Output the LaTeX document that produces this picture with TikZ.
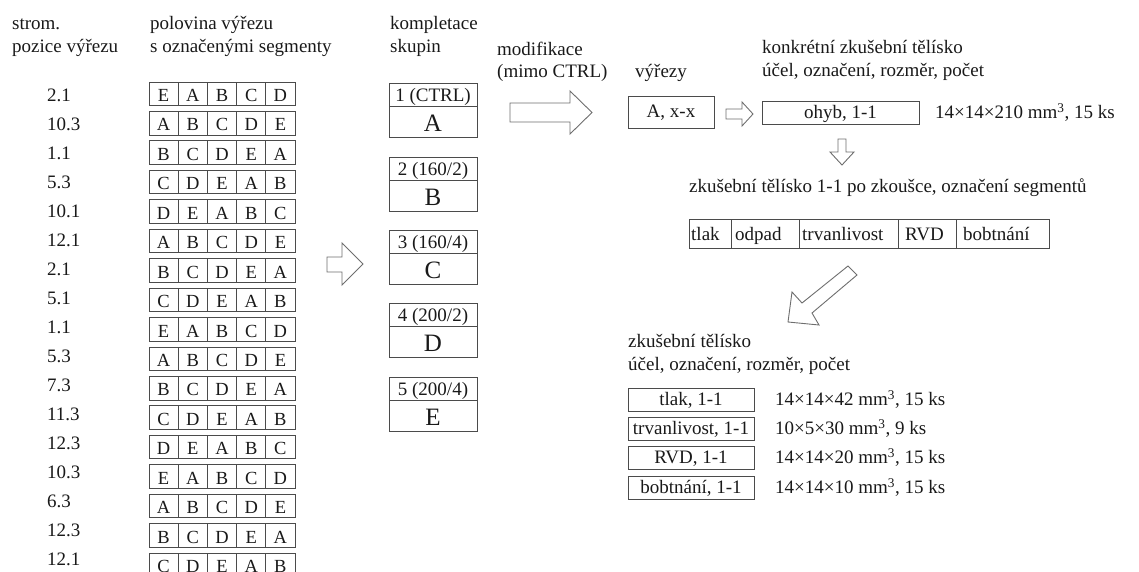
\documentclass[tikz,border=0pt]{standalone}
\usepackage{fontspec}
\setmainfont{Liberation Serif}
\definecolor{ln}{RGB}{75,75,75}
\definecolor{ar}{RGB}{110,110,110}
\definecolor{tx}{RGB}{25,25,25}
\newcommand\fsn{\fontsize{19}{23}\selectfont}
\newcommand\fsc{\fontsize{18.5}{22}\selectfont}
\newcommand\fsbig{\fontsize{25}{29}\selectfont}
\begin{document}
\begin{tikzpicture}[x=1pt,y=-1pt,
 lbl/.style={anchor=base west,inner sep=0pt,font=\fsn,text=tx},
 cell/.style={draw=ln,line width=0.9pt,minimum width=29.2pt,minimum height=23.5pt,inner sep=0pt,font=\fsc,text=tx,text height=15.4pt,text depth=0pt},
 gbox/.style={draw=ln,line width=0.9pt,minimum width=88pt,inner sep=0pt,text=tx},
 gh/.style={gbox,minimum height=23pt,font=\fsn,text height=14pt,text depth=0pt},
 gl/.style={gbox,minimum height=31pt,font=\fsbig,text height=20.4pt,text depth=0pt},
 box/.style={draw=ln,line width=0.9pt,inner sep=0pt,font=\fsn,text=tx,text height=12pt,text depth=0pt},
 blk/.style={draw=ar,line width=0.9pt,fill=white,line join=miter},
]
\useasboundingbox (0,0) rectangle (1139,572);
\clip (0,0) rectangle (1139,572);

% headers
\node[lbl] (h1a) at (12,30) {strom.};
\node[lbl] (h1b) at (12,53) {pozice výřezu};
\node[lbl] (h2a) at (150,30) {polovina výřezu};
\node[lbl] (h2b) at (150,53) {s označenými segmenty};
\node[lbl] (h3a) at (390,30) {kompletace};
\node[lbl] (h3b) at (390,53) {skupin};
\node[lbl] (h4a) at (497,56) {modifikace};
\node[lbl] (h4b) at (497,78) {(mimo CTRL)};
\node[lbl] (h5) at (635,78) {výřezy};
\node[lbl] (h6a) at (762,54) {konkrétní zkušební tělísko};
\node[lbl] (h6b) at (762,77) {účel, označení, rozměr, počet};

% rows
\foreach \r/\nm/\ua/\ub/\uc/\ud/\ue in {
 1/2.1/E/A/B/C/D, 2/10.3/A/B/C/D/E, 3/1.1/B/C/D/E/A, 4/5.3/C/D/E/A/B,
 5/10.1/D/E/A/B/C, 6/12.1/A/B/C/D/E, 7/2.1/B/C/D/E/A, 8/5.1/C/D/E/A/B,
 9/1.1/E/A/B/C/D, 10/5.3/A/B/C/D/E, 11/7.3/B/C/D/E/A, 12/11.3/C/D/E/A/B,
 13/12.3/D/E/A/B/C, 14/10.3/E/A/B/C/D, 15/6.3/A/B/C/D/E, 16/12.3/B/C/D/E/A,
 17/12.1/C/D/E/A/B} {
  \pgfmathsetmacro\yc{93.8+(\r-1)*29.44}
  \pgfmathsetmacro\yn{95+(\r-1)*29.0}
  \node[lbl] (n\r) at (47,\yn+6.5) {\nm};
  \foreach \L [count=\k] in {\ua,\ub,\uc,\ud,\ue} {
    \node[cell] (s\r-\k) at ({134.4+\k*29.2},\yc) {\L};
  }
}

% groups
\node[gh] (g1h) at (433,94.5) {1 (CTRL)};
\node[gl] (g1l) at (433,121.5) {A};
\node[gh] (g2h) at (433,168.5) {2 (160/2)};
\node[gl] (g2l) at (433,195.5) {B};
\node[gh] (g3h) at (433,241.5) {3 (160/4)};
\node[gl] (g3l) at (433,268.5) {C};
\node[gh] (g4h) at (433,314.5) {4 (200/2)};
\node[gl] (g4l) at (433,341.5) {D};
\node[gh] (g5h) at (433,388.5) {5 (200/4)};
\node[gl] (g5l) at (433,415.5) {E};

% block arrows
\draw[blk] (327,257) -- (342,257) -- (342,243) -- (363,264) -- (342,285) -- (342,272) -- (327,272) -- cycle;
\draw[blk] (510,103) -- (570,103) -- (570,91) -- (592,112.5) -- (570,134) -- (570,122) -- (510,122) -- cycle;
\draw[blk] (726,109) -- (742,109) -- (742,102) -- (753,114) -- (742,126) -- (742,119) -- (726,119) -- cycle;
\draw[blk] (838,139) -- (846,139) -- (846,152) -- (854,152) -- (842,165) -- (830,152) -- (838,152) -- cycle;
\draw[blk] (848,266) -- (857,275) -- (812,313) -- (819,325) -- (788,322) -- (792,292) -- (802,303) -- cycle;

% right part
\node[box,minimum width=86pt,minimum height=32pt] (vx) at (671,112) {A, x-x};
\node[box,minimum width=157pt,minimum height=23pt] (oh) at (840.5,112.5) {ohyb, 1-1};
\node[lbl] (dim0) at (935,118.5) {14\texttimes14\texttimes210 mm\textsuperscript{3}, 15 ks};

\node[lbl] (h7) at (689,193) {zkušební tělísko 1-1 po zkoušce, označení segmentů};
\node[box,minimum width=42pt,minimum height=29pt] (b1) at (710,233.5) {};
\node[box,minimum width=68pt,minimum height=29pt] (b2) at (765,233.5) {};
\node[box,minimum width=99pt,minimum height=29pt] (b3) at (848.5,233.5) {};
\node[box,minimum width=58pt,minimum height=29pt] (b4) at (927,233.5) {};
\node[box,minimum width=93pt,minimum height=29pt] (b5) at (1002.5,233.5) {};
\node[lbl] (t1) at (691,240.5) {tlak};
\node[lbl] (t2) at (735,240.5) {odpad};
\node[lbl] (t3) at (802,240.5) {trvanlivost};
\node[lbl] (t4) at (905,240.5) {RVD};
\node[lbl] (t5) at (963,240.5) {bobtnání};

\node[lbl] (h8a) at (628,347) {zkušební tělísko};
\node[lbl] (h8b) at (628,370) {účel, označení, rozměr, počet};
\node[box,minimum width=126pt,minimum height=23pt] (p1) at (691,399.5) {tlak, 1-1};
\node[box,minimum width=126pt,minimum height=23pt] (p2) at (691,428.5) {trvanlivost, 1-1};
\node[box,minimum width=126pt,minimum height=23pt] (p3) at (691,457.5) {RVD, 1-1};
\node[box,minimum width=126pt,minimum height=23pt] (p4) at (691,487.5) {bobtnání, 1-1};
\node[lbl] (d1) at (775,405.5) {14\texttimes14\texttimes42 mm\textsuperscript{3}, 15 ks};
\node[lbl] (d2) at (775,434.5) {10\texttimes5\texttimes30 mm\textsuperscript{3}, 9 ks};
\node[lbl] (d3) at (775,463.5) {14\texttimes14\texttimes20 mm\textsuperscript{3}, 15 ks};
\node[lbl] (d4) at (775,493.5) {14\texttimes14\texttimes10 mm\textsuperscript{3}, 15 ks};
\end{tikzpicture}
\end{document}
